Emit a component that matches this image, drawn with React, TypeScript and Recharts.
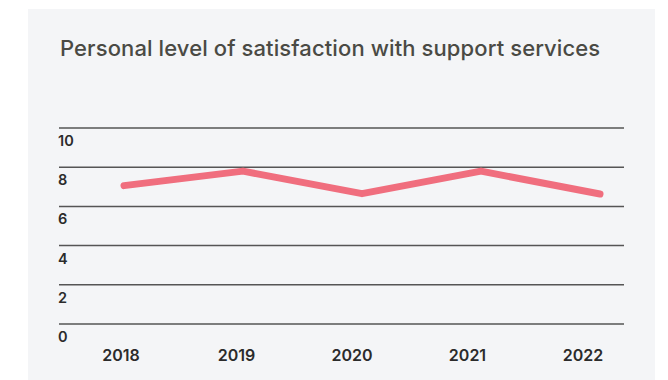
import React from "react";
import { LineChart, Line, XAxis, YAxis, CartesianGrid } from "recharts";

const years = ["2018", "2019", "2020", "2021", "2022"];
const satisfaction = [7.06, 7.8, 6.65, 7.8, 6.63];
const yTicks = [0, 2, 4, 6, 8, 10];
const title = "Personal level of satisfaction with support services";

const data = years.map((y, i) => ({ year: y, value: satisfaction[i] }));

const FONT = "Inter, 'Noto Sans', sans-serif";

const YTick = (props: any) => {
  const { y, payload } = props;
  return (
    <text x={58} y={y + 13} dy="0.35em" textAnchor="start" fill="#2b2b2b" fontSize={14.5} fontWeight={600} fontFamily={FONT}>
      {payload.value}
    </text>
  );
};

const XTick = (props: any) => {
  const { x, payload } = props;
  return (
    <text x={x} y={355} dy="0.35em" textAnchor="middle" fill="#2b2b2b" fontSize={16} fontWeight={600} fontFamily={FONT}>
      {payload.value}
    </text>
  );
};

export default function App() {
  return (
    <div style={{ position: "absolute", left: 0, top: 0, width: 668, height: 380, background: "#ffffff", overflow: "hidden" }}>
      <div style={{ position: "absolute", left: 28, top: 9, width: 627, height: 371, background: "#f4f5f7" }} />
      <div
        style={{
          position: "absolute",
          left: 60,
          top: 35,
          fontFamily: FONT,
          fontSize: 22,
          fontWeight: 500,
          letterSpacing: 0.1,
          color: "#4a4a44",
          whiteSpace: "nowrap",
          lineHeight: "26px",
        }}
      >
        {title}
      </div>
      <div style={{ position: "absolute", left: 0, top: 0 }}>
        <LineChart width={668} height={380} data={data} margin={{ top: 128, right: 44, bottom: 26, left: 58 }}>
          <CartesianGrid horizontal vertical={false} stroke="#555555" strokeWidth={1.5} />
          <XAxis xAxisId="labels" dataKey="year" height={30} axisLine={false} tickLine={false} tick={<XTick />} padding={{ left: 62, right: 41 }} interval={0} />
          <XAxis xAxisId="line" dataKey="year" hide padding={{ left: 65, right: 24 }} />
          <YAxis domain={[0, 10]} ticks={yTicks} width={1} axisLine={false} tickLine={false} tick={<YTick />} interval={0} />
          <Line
            xAxisId="line"
            dataKey="value"
            stroke="#f06e7e"
            strokeWidth={7}
            strokeLinecap="round"
            strokeLinejoin="round"
            dot={false}
            activeDot={false}
            isAnimationActive={false}
          />
        </LineChart>
      </div>
    </div>
  );
}
